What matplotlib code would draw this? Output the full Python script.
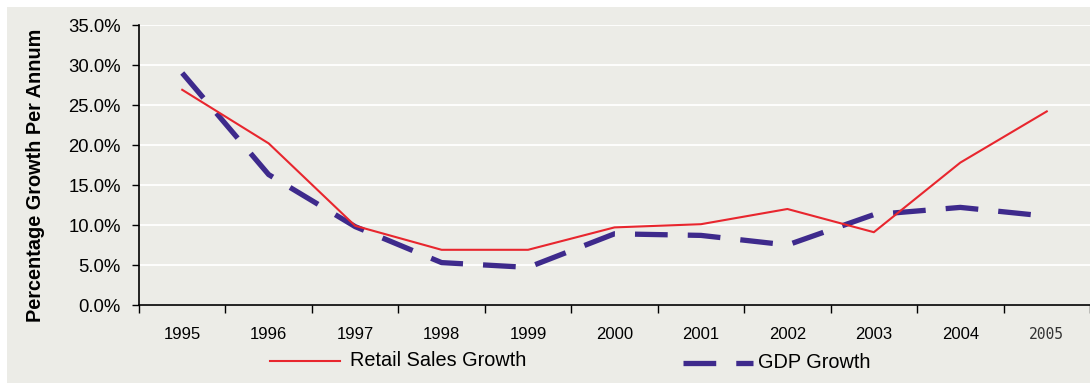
import matplotlib.pyplot as plt
from matplotlib.patches import Rectangle
from matplotlib.lines import Line2D

# Annual growth figures, percent
years = ["1995", "1996", "1997", "1998", "1999", "2000",
         "2001", "2002", "2003", "2004", "2005"]
retail_growth = [26.9, 20.2, 9.9, 6.9, 6.9, 9.7, 10.1, 12.0, 9.1, 17.8, 24.2]
gdp_growth = [29.0, 16.3, 9.8, 5.3, 4.7, 8.9, 8.7, 7.5, 11.3, 12.2, 11.1]
y_ticks = [0, 5, 10, 15, 20, 25, 30, 35]

RED = "#e8262e"
PURPLE = "#3e2a8c"
PANEL = "#ecece7"
GDP_LW = 3.8
GDP_DASH = (6.2, 3.8)

plt.rcParams["font.family"] = ["Liberation Sans", "DejaVu Sans"]

fig = plt.figure(figsize=(10.9, 3.83), dpi=100, facecolor="white")
fig.patches.append(Rectangle((7 / 1090, 0), 1.0, 376 / 383, transform=fig.transFigure,
                             facecolor=PANEL, edgecolor="none", zorder=-10))

ax = fig.add_axes([139 / 1090, 78 / 383, 1 - 139 / 1090, 280 / 383])
ax.set_facecolor(PANEL)

x = list(range(len(years)))
ax.plot(x, retail_growth, color=RED, lw=1.5, zorder=3)
ax.plot(x, gdp_growth, color=PURPLE, lw=GDP_LW, dashes=GDP_DASH, zorder=2)

ax.set_xlim(-0.5, 10.35)
ax.set_ylim(0, 35)
ax.set_yticks(y_ticks)
ax.set_yticklabels(["%.1f%%" % v for v in y_ticks], fontsize=13.3)
ax.yaxis.grid(True, color="white", lw=1.3)
ax.set_axisbelow(True)

# category labels sit between the boundary ticks
ax.set_xticks(x)
ax.set_xticklabels(years, fontsize=12)
ax.tick_params(axis="x", which="major", length=0, pad=16)
ax.set_xticks([i - 0.5 for i in range(len(years) + 1)], minor=True)
ax.tick_params(axis="x", which="minor", length=6, width=1, direction="out")
ax.tick_params(axis="y", length=5, width=1, pad=8)
lab = ax.get_xticklabels()[-1]
lab.set_fontfamily("DejaVu Sans Mono")
lab.set_fontsize(10.5)
lab.set_color("#333333")

for side in ("top", "right"):
    ax.spines[side].set_visible(False)
for side in ("left", "bottom"):
    ax.spines[side].set_linewidth(1.2)

ax.set_ylabel("Percentage Growth Per Annum", fontsize=14.3, fontweight="bold")
ax.yaxis.set_label_coords(-0.099, 0.464)

# legend entries laid out along the bottom
fig.add_artist(Line2D([270 / 1090, 340 / 1090], [22 / 383, 22 / 383], color=RED, lw=1.5))
fig.text(350 / 1090, 22 / 383, "Retail Sales Growth", fontsize=14.3, va="center")
fig.add_artist(Line2D([683 / 1090, 753 / 1090], [20 / 383, 20 / 383], color=PURPLE,
                      lw=GDP_LW, dashes=GDP_DASH, solid_capstyle="butt"))
fig.text(758 / 1090, 20 / 383, "GDP Growth", fontsize=14.3, va="center")

fig.savefig("out.png", dpi=100, facecolor="white")
